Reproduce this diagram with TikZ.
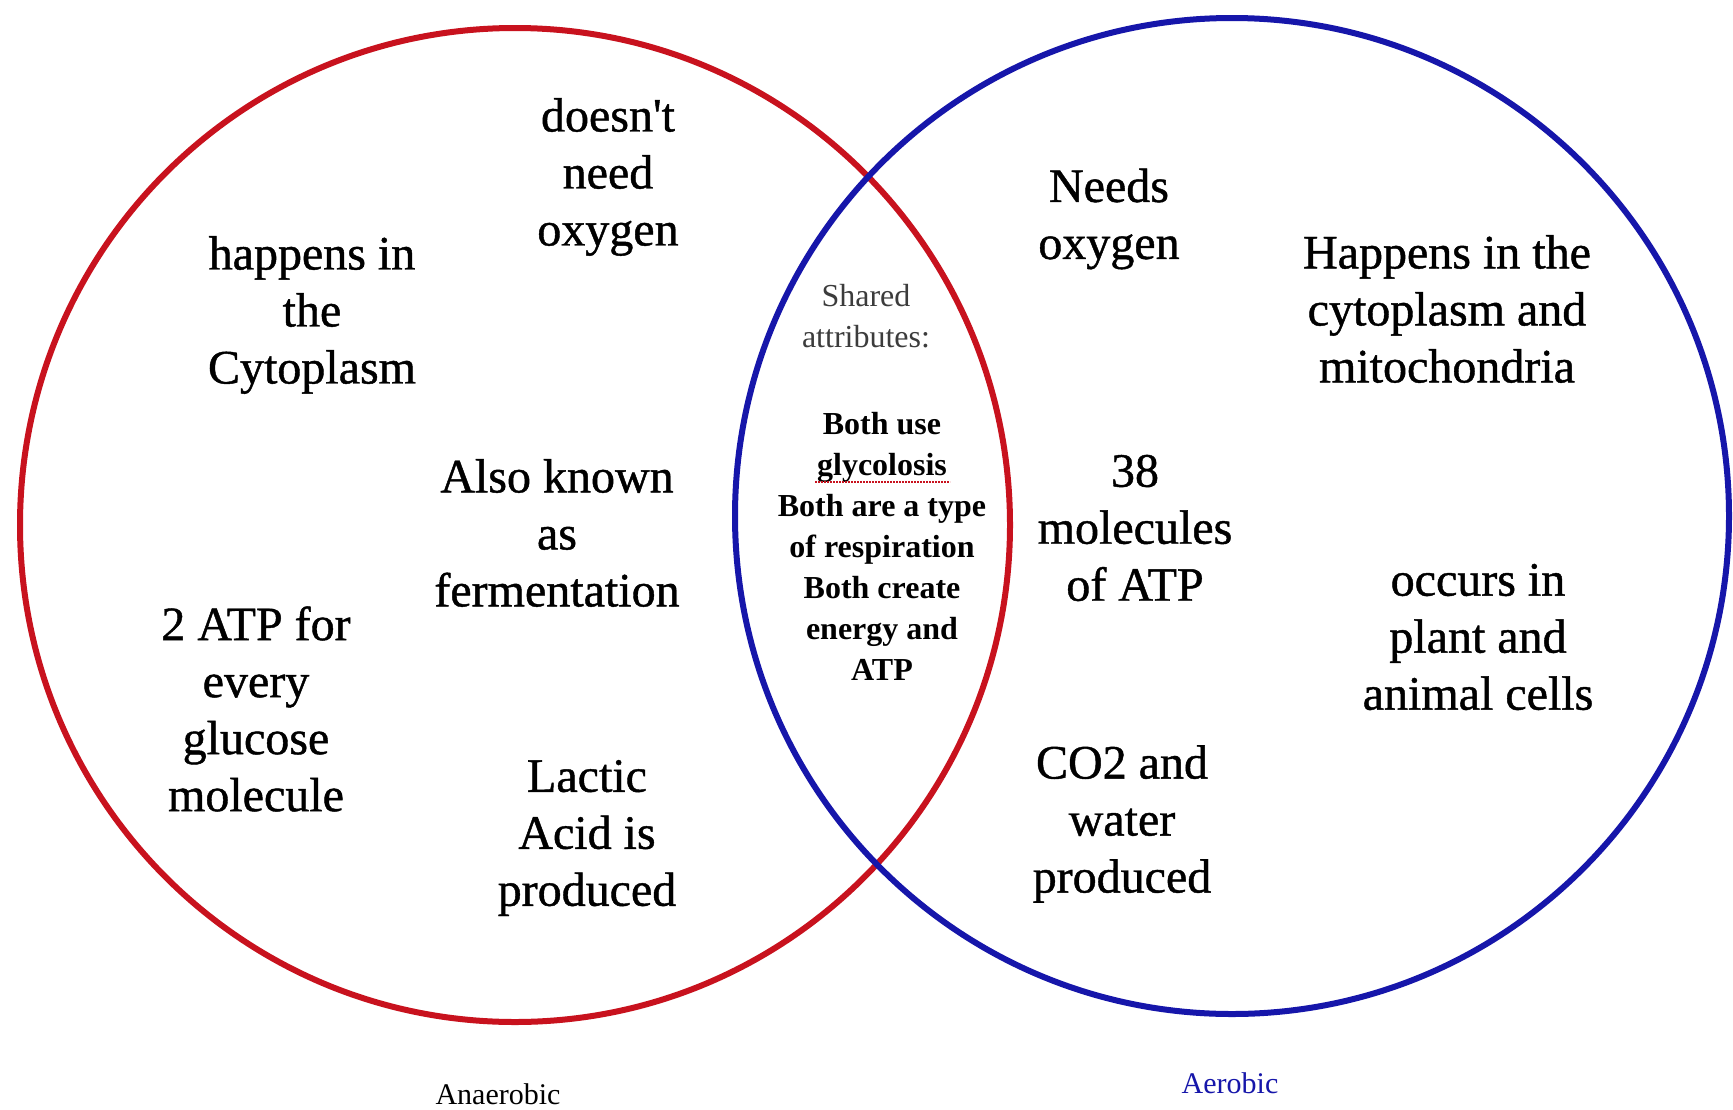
\documentclass[tikz,border=0pt]{standalone}
\usepackage{fontspec}
\setmainfont{Liberation Serif}
\newfontfamily\heavyfont[FakeBold=0.9]{Liberation Serif}
\definecolor{cred}{RGB}{200,18,30}
\definecolor{cblue}{RGB}{22,22,170}
\definecolor{cgray}{RGB}{60,60,60}
\begin{document}
\begin{tikzpicture}[x=1pt,y=-1pt,
  item/.style={font=\heavyfont\fontsize{48}{57}\selectfont, align=center, inner sep=0pt, text=black},
  shared/.style={font=\fontsize{32}{41}\selectfont, align=center, inner sep=0pt, text=cgray},
  sharedbold/.style={font=\fontsize{32}{41}\selectfont\bfseries, align=center, inner sep=0pt, text=black},
  setlabel/.style={font=\fontsize{30}{36}\selectfont, inner sep=0pt},
  ring/.style={line width=6pt}]
\fill[white] (0,0) rectangle (1733,1109);
\useasboundingbox (0,0) rectangle (1733,1109);
\draw[ring, cred] (515,525) ellipse [x radius=495pt, y radius=497pt];
\draw[ring, cblue] (1232,516) ellipse [x radius=497pt, y radius=498pt];

\node[item] (nooxy) at (608,177) {doesn{\char"0027}t\\need\\oxygen};
\node[item] (cyto) at (312,315) {happens in\\the\\Cytoplasm};
\node[item] (ferm) at (557,533) {Also known\\as\\fermentation};
\node[item] (twoatp) at (256,709) {2 ATP for\\every\\glucose\\molecule};
\node[item] (lactic) at (587,838) {Lactic\\Acid is\\produced};

\node[item] (needs) at (1109,219) {Needs\\oxygen};
\node[item] (mito) at (1447,309) {Happens in the\\cytoplasm and\\mitochondria};
\node[item] (atp38) at (1135,528) {38\\molecules\\of ATP};
\node[item] (cells) at (1478,637) {occurs in\\plant and\\animal cells};
\node[item] (co2) at (1122,824) {CO2 and\\water\\produced};

\node[shared] (sharedhead) at (866,316) {Shared\\attributes:};
\node[sharedbold] (both) at (882,546) {Both use\\glycolosis\\Both are a type\\of respiration\\Both create\\energy and\\ATP};
\coordinate (ulA) at (815,482);
\coordinate (ulB) at (950,482);
\draw[cred, densely dotted, line width=2pt] (ulA) -- (ulB);

\node[setlabel, text=black] (anaer) at (498,1094) {Anaerobic};
\node[setlabel, text=cblue] (aer) at (1230,1083) {Aerobic};
\end{tikzpicture}
\end{document}
